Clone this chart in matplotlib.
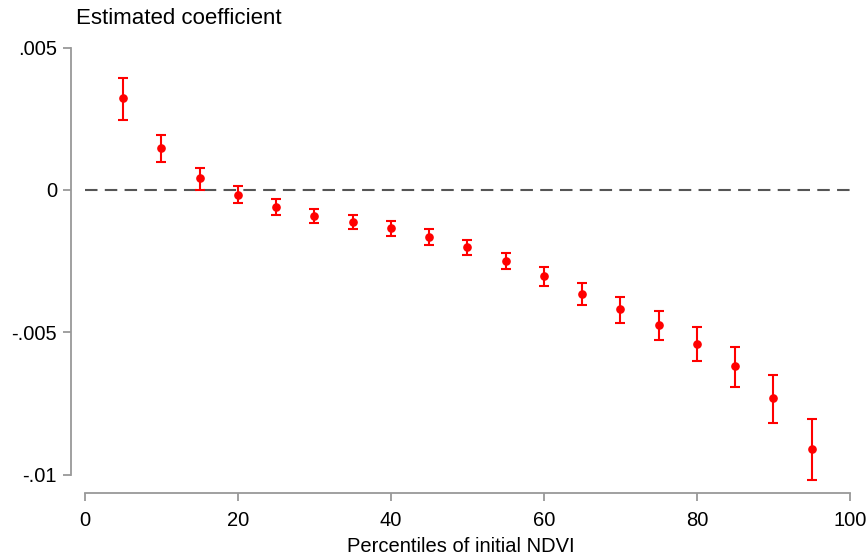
import numpy as np
import matplotlib
matplotlib.use("Agg")
import matplotlib.pyplot as plt

plt.rcParams['font.family'] = ['Liberation Sans', 'DejaVu Sans']

# percentiles of initial NDVI and estimated coefficients
pct = [5, 10, 15, 20, 25, 30, 35, 40, 45, 50, 55, 60, 65, 70, 75, 80, 85, 90, 95]
coef = [0.00323, 0.00148, 0.00042, -0.00018, -0.00060, -0.00091, -0.00112, -0.00134,
        -0.00165, -0.00200, -0.00249, -0.00302, -0.00365, -0.00418, -0.00474,
        -0.00541, -0.00618, -0.00731, -0.00910]
ci_hi = [0.00394, 0.00193, 0.00077, 0.00014, -0.00032, -0.00067, -0.00088, -0.00109,
         -0.00137, -0.00176, -0.00221, -0.00271, -0.00327, -0.00376, -0.00425,
         -0.00481, -0.00552, -0.00650, -0.00805]
ci_lo = [0.00246, 0.00098, 0.00000, -0.00046, -0.00088, -0.00116, -0.00137, -0.00162,
         -0.00193, -0.00228, -0.00278, -0.00337, -0.00404, -0.00467, -0.00527,
         -0.00601, -0.00692, -0.00819, -0.01019]

yticks = [0.005, 0, -0.005, -0.01]
ytick_labels = [".005", "0", "-.005", "-.01"]
xticks = [0, 20, 40, 60, 80, 100]

coef = np.array(coef)
err = [coef - np.array(ci_lo), np.array(ci_hi) - coef]

fig = plt.figure(figsize=(8.67, 5.56), dpi=100)
ax = fig.add_axes([71/867, 63/556, (850-71)/867, (493-40)/556])

ax.hlines(0, 0, 100, color="#555555", lw=1.5, linestyles=[(0, (6, 3.5))], zorder=1)
ax.errorbar(pct, coef, yerr=err, fmt="o", color="#ff0000", ms=5.2,
            elinewidth=1.5, capsize=3.5, capthick=1.5, zorder=3)

ax.set_xlim(-1.83, 100)
ax.set_ylim(-0.01065, 0.00527)

for s in ["top", "right"]:
    ax.spines[s].set_visible(False)
ax.spines["left"].set_bounds(-0.01, 0.005)
ax.spines["bottom"].set_bounds(0, 100)
for s in ["left", "bottom"]:
    ax.spines[s].set_color("#999999")
    ax.spines[s].set_linewidth(1.3)

ax.set_yticks(yticks)
ax.set_yticklabels(ytick_labels)
ax.set_xticks(xticks)
ax.tick_params(axis="both", colors="#999999", labelcolor="black",
               labelsize=14.5, length=6, width=1.3, direction="out")
ax.tick_params(axis="x", pad=7)
ax.tick_params(axis="y", pad=4)

ax.set_xlabel("Percentiles of initial NDVI", fontsize=14.5, labelpad=5)
fig.text(76/867, 1 - 19/556, "Estimated coefficient", fontsize=16, va="center", ha="left")

fig.savefig("out.png", dpi=100, facecolor="white")
